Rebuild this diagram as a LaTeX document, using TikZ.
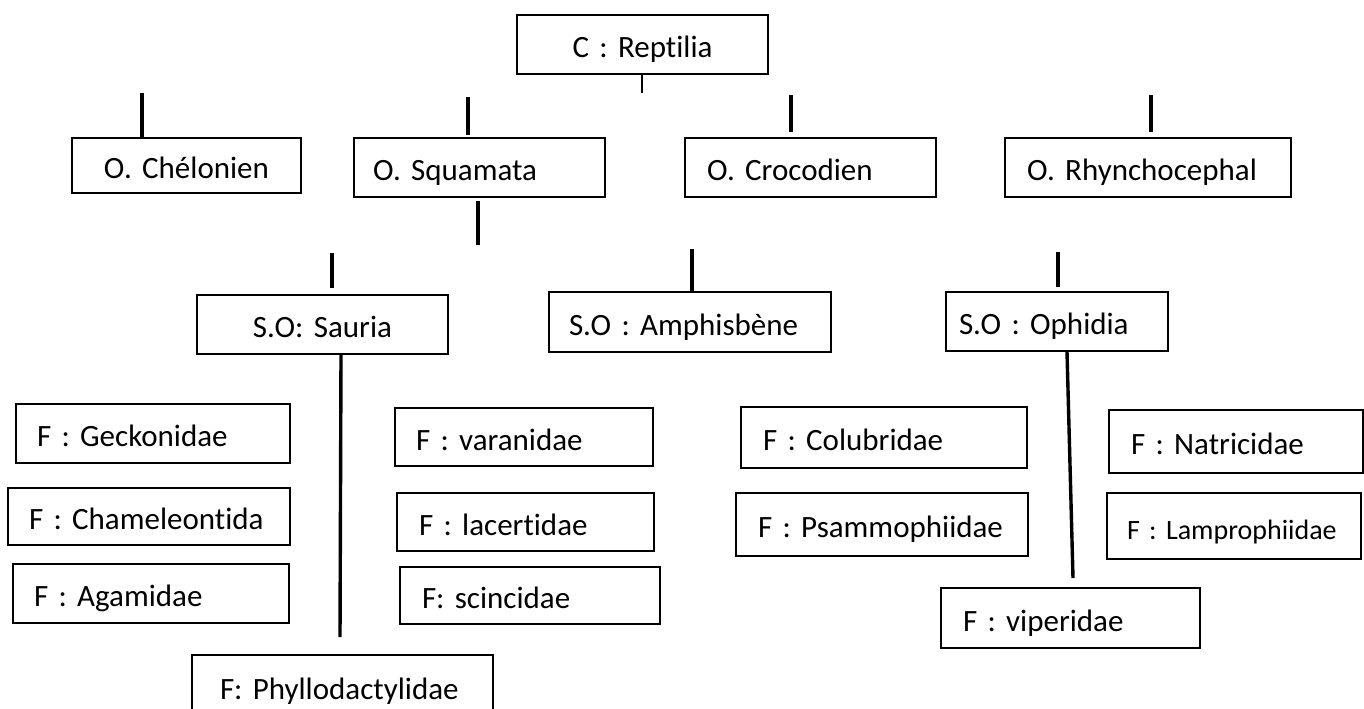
\documentclass[tikz,border=0pt]{standalone}
\usepackage{fontspec}
\setmainfont{Carlito}[Ligatures=NoCommon]
\frenchspacing
\tikzstyle{taxon} = [draw, line width=1pt, rectangle, anchor=north west, inner ysep=0pt, align=left, text height=13pt, text depth=0pt, font=\fontsize{15.5}{18}\selectfont]
\tikzstyle{tick} = [line width=1.7pt]
\tikzstyle{thintick} = [line width=1pt]

\begin{document}
\begin{tikzpicture}[x=0.5pt, y=-0.5pt]
	\useasboundingbox (0,0) rectangle (1364,708);
	% classe et ordres
	\node[taxon, align=center, minimum width=125.5pt, minimum height=29.5pt, inner xsep=10pt, text width=105.5pt] (reptilia) at (516,14) {C : Reptilia};
	\node[taxon, align=center, minimum width=114.5pt, minimum height=27.5pt, inner xsep=10pt, text width=94.5pt] (chelonien) at (71,137) {O. Chélonien};
	\node[taxon, minimum width=125.5pt, minimum height=29.5pt, inner xsep=9.5pt, text width=106.5pt] (squamata) at (353,137) {O. Squamata};
	\node[taxon, minimum width=125.5pt, minimum height=29.5pt, inner xsep=11pt, text width=103.5pt] (crocodien) at (684,137) {O. Crocodien};
	\node[taxon, minimum width=143pt, minimum height=29.5pt, inner xsep=11pt, text width=121pt] (rhyncho) at (1004,137) {O. Rhynchocephal};
	% sous-ordres
	\node[taxon, align=center, minimum width=125.5pt, minimum height=29.5pt, inner xsep=10pt, text width=105.5pt] (sauria) at (196,294) {S.O: Sauria};
	\node[taxon, minimum width=141pt, minimum height=30pt, inner xsep=10pt, text width=121pt] (amphisbene) at (548,291) {S.O : Amphisbène};
	\node[taxon, minimum width=111pt, minimum height=29.5pt, inner xsep=6.5pt, text width=98pt] (ophidia) at (945,291) {S.O : Ophidia};
	% familles
	\node[taxon, minimum width=137pt, minimum height=29.5pt, inner xsep=10.5pt, text width=116pt] (gecko) at (15,403) {F : Geckonidae};
	\node[taxon, minimum width=141pt, minimum height=28.5pt, inner xsep=10.5pt, text width=120pt] (chamel) at (7,487) {F : Chameleontida};
	\node[taxon, minimum width=138pt, minimum height=29.5pt, inner xsep=10.5pt, text width=117pt] (agami) at (12,563) {F : Agamidae};
	\node[taxon, minimum width=129pt, minimum height=29pt, inner xsep=10.5pt, text width=108pt] (varan) at (394,407) {F : varanidae};
	\node[taxon, minimum width=128.5pt, minimum height=29pt, inner xsep=11pt, text width=106.5pt] (lacert) at (396,492) {F : lacertidae};
	\node[taxon, minimum width=130pt, minimum height=28.5pt, inner xsep=11pt, text width=108pt] (scinc) at (399,566) {F: scincidae};
	\node[taxon, minimum width=150.5pt, minimum height=31pt, inner xsep=14pt, text width=122.5pt] (phyllo) at (191,654) {F: Phyllodactylidae};
	\node[taxon, minimum width=143pt, minimum height=30.5pt, inner xsep=11pt, text width=121pt] (colub) at (740,406) {F : Colubridae};
	\node[taxon, minimum width=146pt, minimum height=31.5pt, inner xsep=11pt, text width=124pt] (psammo) at (735,492) {F : Psammophiidae};
	\node[taxon, minimum width=129.5pt, minimum height=30pt, inner xsep=11pt, text width=107.5pt] (viper) at (940,587) {F : viperidae};
	\node[taxon, minimum width=127pt, minimum height=31.5pt, inner xsep=11pt, text width=105pt] (natri) at (1108,409) {F : Natricidae};
	\node[taxon, minimum width=127pt, minimum height=33pt, inner xsep=10pt, text width=107pt, font=\fontsize{14}{17}\selectfont] (lampro) at (1106,492) {F : Lamprophiidae};
	% traits
	\coordinate (rt) at (642,93);
	\coordinate (ct) at (142,93);
	\coordinate (st) at (468,97);
	\coordinate (kt) at (791,95);
	\coordinate (ht) at (1151,95);
	\coordinate (sb) at (478,245);
	\coordinate (at) at (332,253);
	\coordinate (mt) at (692,249);
	\coordinate (ot) at (1058,252);
	\coordinate (sl) at (340,637);
	\coordinate (ol) at (1073,578);
	\draw[thintick] (rt |- reptilia.south) -- (rt);
	\draw[tick] (ct) -- (ct |- chelonien.north);
	\draw[tick] (st) -- ([yshift=1pt]st |- squamata.north);
	\draw[tick] (kt) -- ([yshift=2.5pt]kt |- crocodien.north);
	\draw[tick] (ht) -- ([yshift=2.5pt]ht |- rhyncho.north);
	\draw[tick] ([yshift=-1.5pt]sb |- squamata.south) -- (sb);
	\draw[tick] (at) -- ([yshift=3pt]at |- sauria.north);
	\draw[tick] (mt) -- (mt |- amphisbene.north);
	\draw[tick] (ot) -- ([yshift=2pt]ot |- ophidia.north);
	\draw[tick] ([xshift=9.25pt]sauria.south) -- (sl);
	\draw[tick] ([xshift=5pt]ophidia.south) -- (ol);
\end{tikzpicture}
\end{document}
